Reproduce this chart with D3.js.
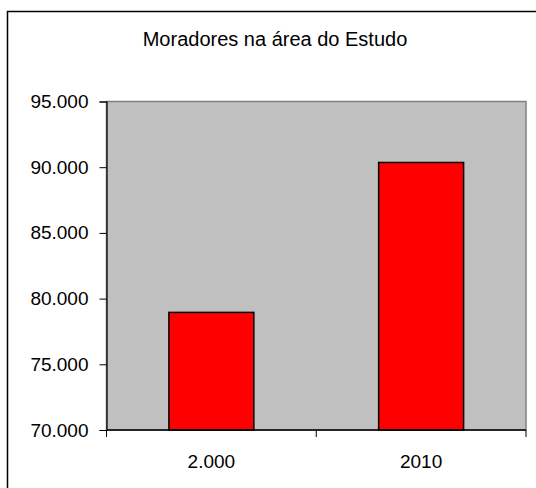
<!DOCTYPE html>
<html>
<head>
<meta charset="utf-8">
<script src="https://cdn.jsdelivr.net/npm/d3@7"></script>
<style>
  html, body { margin: 0; padding: 0; background: #fff; }
  svg { display: block; font-family: "Liberation Sans", Arial, sans-serif; }
</style>
</head>
<body>
<svg id="chart" width="536" height="488"></svg>
<script>
const title = "Moradores na área do Estudo";
const categories = ["2.000", "2010"];
const values = [78950, 90360];
const yTicks = [70000, 75000, 80000, 85000, 90000, 95000];

const svg = d3.select("#chart");
const W = 536, H = 488;
const plot = { left: 106.5, right: 526, top: 101.5, bottom: 430 };

// outer frame
svg.append("rect")
  .attr("x", 7.5).attr("y", 11.5)
  .attr("width", W + 10).attr("height", H + 10)
  .attr("fill", "#fff").attr("stroke", "#000").attr("stroke-width", 1.5);

svg.append("text")
  .attr("x", 275).attr("y", 46)
  .attr("text-anchor", "middle")
  .attr("font-size", 20)
  .attr("fill", "#000")
  .text(title);

const x = d3.scaleBand().domain(categories)
  .range([plot.left, plot.right])
  .paddingInner(0.595).paddingOuter(0.2975);

const y = d3.scaleLinear().domain([70000, 95000]).range([plot.bottom, plot.top]);

// plot background
svg.append("rect")
  .attr("x", plot.left).attr("y", plot.top)
  .attr("width", plot.right - plot.left).attr("height", plot.bottom - plot.top)
  .attr("fill", "#c0c0c0").attr("stroke", "#808080").attr("stroke-width", 1.5);

// bars
svg.selectAll("rect.bar").data(values).enter().append("rect")
  .attr("class", "bar")
  .attr("x", (d, i) => x(categories[i]))
  .attr("y", d => y(d))
  .attr("width", x.bandwidth())
  .attr("height", d => y(70000) - y(d))
  .attr("fill", "#ff0000").attr("stroke", "#000").attr("stroke-width", 1.5);

const fmt = d => d3.format(",")(d).replace(/,/g, ".");

// y axis
const yAxis = d3.axisLeft(y).tickValues(yTicks).tickFormat(fmt).tickSize(7).tickPadding(11);
const gy = svg.append("g").attr("transform", `translate(${plot.left},0)`).call(yAxis);
gy.select(".domain").attr("stroke", "#000").attr("stroke-width", 1.2);
gy.selectAll(".tick line").attr("stroke", "#000");
gy.selectAll(".tick text").attr("font-size", 19).attr("fill", "#000")
  .attr("font-family", "'Liberation Sans', Arial, sans-serif");

// x axis: ticks at category boundaries
const boundaries = [plot.left, plot.left + (plot.right - plot.left) / 2, plot.right];
const gx = svg.append("g").attr("transform", `translate(0,${plot.bottom})`);
gx.append("line").attr("x1", plot.left).attr("x2", plot.right)
  .attr("stroke", "#000").attr("stroke-width", 1.5);
gx.selectAll("line.tk").data(boundaries).enter().append("line")
  .attr("class", "tk")
  .attr("x1", d => d).attr("x2", d => d).attr("y1", 0).attr("y2", 7)
  .attr("stroke", "#000");
gx.selectAll("text.lbl").data(categories).enter().append("text")
  .attr("class", "lbl")
  .attr("x", d => x(d) + x.bandwidth() / 2)
  .attr("y", 38)
  .attr("text-anchor", "middle")
  .attr("font-size", 19)
  .attr("fill", "#000")
  .text(d => d);
</script>
</body>
</html>
